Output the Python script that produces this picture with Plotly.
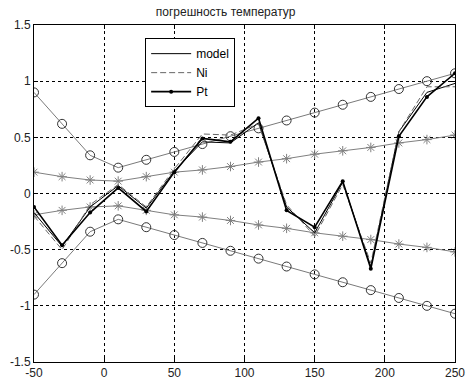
import plotly.graph_objects as go

x = [-50, -30, -10, 10, 30, 50, 70, 90, 110, 130, 150, 170, 190, 210, 230, 250]

circ_upper = [0.90, 0.62, 0.34, 0.23, 0.30, 0.37, 0.44, 0.51, 0.58, 0.65, 0.72, 0.79, 0.86, 0.93, 1.00, 1.07]
circ_lower = [-v for v in circ_upper]
star_upper = [0.19, 0.15, 0.12, 0.11, 0.15, 0.19, 0.21, 0.24, 0.28, 0.31, 0.35, 0.38, 0.41, 0.45, 0.48, 0.52]
star_lower = [-v for v in star_upper]

model = [-0.17, -0.47, -0.12, 0.07, -0.13, 0.20, 0.46, 0.45, 0.63, -0.12, -0.35, 0.10, -0.65, 0.55, 0.90, 0.98]
ni = [-0.20, -0.50, -0.10, 0.08, -0.12, 0.22, 0.53, 0.52, 0.62, -0.10, -0.38, 0.08, -0.62, 0.55, 0.95, 0.95]
pt = [-0.12, -0.46, -0.17, 0.05, -0.16, 0.19, 0.49, 0.46, 0.67, -0.15, -0.30, 0.11, -0.67, 0.51, 0.86, 1.07]

x_ticks = [-50, 0, 50, 100, 150, 200, 250]
y_ticks = [-1.5, -1, -0.5, 0, 0.5, 1, 1.5]

fig = go.Figure()

for yy in (circ_upper, circ_lower):
    fig.add_trace(go.Scatter(x=x, y=yy, mode="lines+markers", showlegend=False,
                             line=dict(color="#7a7a7a", width=1),
                             marker=dict(symbol="circle-open", size=9, color="#333333", line=dict(width=1))))
for yy in (star_upper, star_lower):
    fig.add_trace(go.Scatter(x=x, y=yy, mode="lines+markers", showlegend=False,
                             line=dict(color="#808080", width=1),
                             marker=dict(symbol="asterisk-open", size=8, color="#808080", line=dict(width=1, color="#808080"))))

fig.add_trace(go.Scatter(x=x, y=model, mode="lines", name="model",
                         line=dict(color="black", width=1)))
fig.add_trace(go.Scatter(x=x, y=ni, mode="lines", name="Ni",
                         line=dict(color="#666666", width=1, dash="6px,3px")))
fig.add_trace(go.Scatter(x=x, y=pt, mode="lines+markers", name="Pt",
                         line=dict(color="black", width=1.6),
                         marker=dict(symbol="circle", size=4, color="black")))

axis_common = dict(
    showline=True, linecolor="black", linewidth=1, mirror="ticks",
    ticks="inside", ticklen=4, tickcolor="black",
    showgrid=True, gridcolor="black", gridwidth=1, griddash="3px,3px",
    zeroline=False, automargin=False,
    tickfont=dict(family="Liberation Sans, Arial, sans-serif", size=12, color="#222222"),
)

fig.update_xaxes(range=[-50, 250], tickvals=x_ticks, ticktext=[str(v) for v in x_ticks], **axis_common)
fig.update_yaxes(range=[-1.5, 1.5], tickvals=y_ticks, ticktext=[("%g" % v) for v in y_ticks], **axis_common)

fig.update_layout(
    width=473, height=385,
    margin=dict(l=34, r=18, t=25, b=23, autoexpand=False),
    paper_bgcolor="white", plot_bgcolor="white",
    title=dict(text="погрешность температур", x=0.455, xanchor="center", xref="paper",
               y=1 - 12 / 385, yref="container", yanchor="middle", automargin=False,
               font=dict(family="Liberation Sans, Arial, sans-serif", size=12, color="#222222")),
    legend=dict(x=0.264, y=0.961, xanchor="left", yanchor="top",
                bgcolor="white", bordercolor="black", borderwidth=1,
                font=dict(family="Liberation Sans, Arial, sans-serif", size=12, color="black"),
                tracegroupgap=0, itemwidth=40),
    showlegend=True,
)

fig.write_html("out.html", config={"displayModeBar": False},
               post_script="document.body.style.margin='0';")
